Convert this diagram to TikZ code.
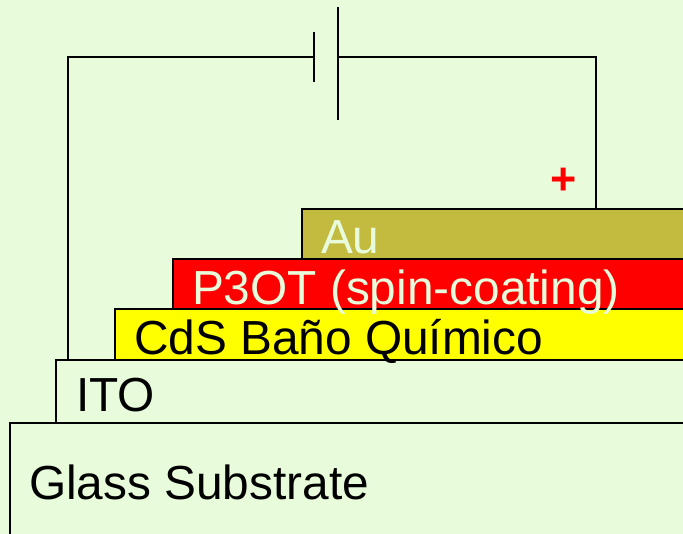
\documentclass[tikz,border=0pt]{standalone}
\usepackage{fontspec}
\setmainfont{Liberation Sans}
\definecolor{bgc}{RGB}{232,252,220}
\definecolor{auc}{RGB}{195,186,64}
\definecolor{yel}{RGB}{255,255,0}
\definecolor{redc}{RGB}{255,0,0}
\tikzset{
  layer/.style={draw=black,line width=2pt,inner sep=0pt,outer sep=0pt,anchor=north west},
  lab/.style={anchor=base west,inner sep=0pt,outer sep=0pt,font=\fontsize{47.8}{48}\selectfont},
  wire/.style={draw=black,line width=2pt,line cap=butt},
}
\begin{document}
\begin{tikzpicture}[x=1pt,y=-1pt]
\useasboundingbox (0,0) rectangle (683,534);
\clip (0,0) rectangle (683,534);
\fill[bgc] (0,0) rectangle (683,534);
% wires first
\coordinate (tl) at (68,57.5);
\coordinate (tr) at (596,57.5);
\coordinate (p1t) at (314,32);
\coordinate (p1b) at (314,82);
\coordinate (p1m) at (314,57.5);
\coordinate (p2t) at (337.5,7);
\coordinate (p2b) at (337.5,120);
\coordinate (p2m) at (337.5,57.5);
% layers
\node[layer,fill=auc,minimum width=440pt,minimum height=60pt] (au) at (302,209) {};
\node[layer,fill=redc,minimum width=560pt,minimum height=60pt] (p3ot) at (173,259) {};
\node[layer,fill=yel,minimum width=620pt,minimum height=50.5pt] (cds) at (114.5,309.5) {};
\node[layer,fill=bgc,minimum width=680pt,minimum height=70pt] (ito) at (56,360) {};
\node[layer,fill=bgc,minimum width=720pt,minimum height=160pt] (glass) at (9.5,423) {};
% connectors
\draw[wire] (ito.north west -| tl) -- (tl) -- (p1m);
\draw[wire] (p2m) -- (tr) -- (tr |- au.north);
\draw[wire] (p1t) -- (p1b);
\draw[wire] (p2t) -- (p2b);
% labels
\node[lab,text=bgc] (tau) at (321,254) {Au};
\node[lab,text=bgc] (tp3) at (192,305) {P3OT (spin-coating)};
\node[lab,text=black] (tcds) at (134,355) {CdS Baño Químico};
\node[lab,text=black] (tito) at (76,412) {ITO};
\node[lab,text=black] (tgl) at (29,499) {Glass Substrate};
\node[anchor=center,inner sep=0pt,text=redc,font=\fontsize{45}{45}\selectfont\bfseries] (plus) at (564,181) {+};
\end{tikzpicture}
\end{document}
